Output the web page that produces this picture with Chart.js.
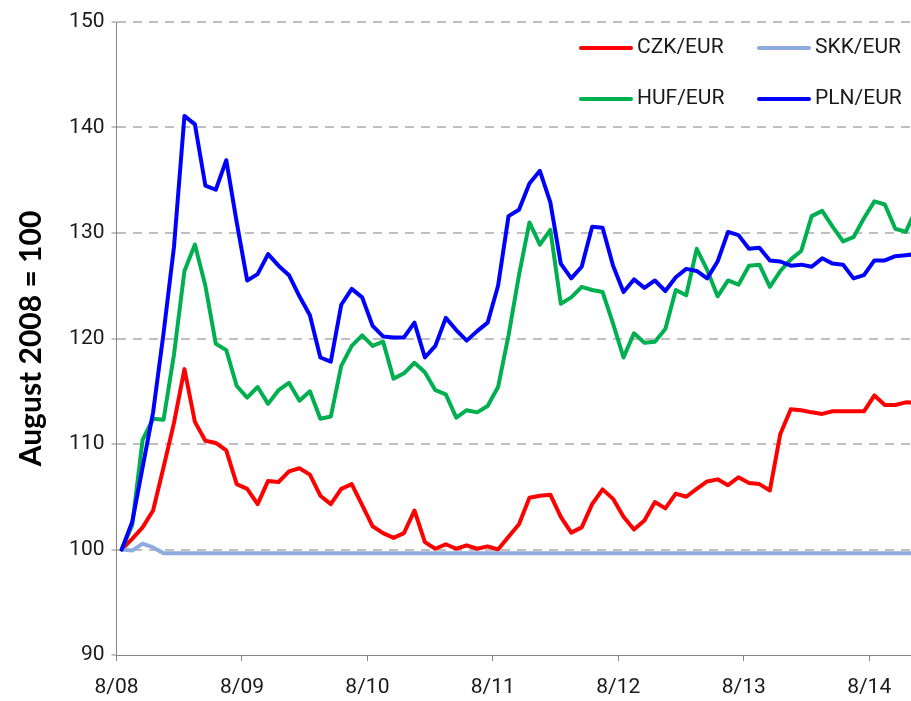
<!DOCTYPE html>
<html>
<head>
<meta charset="utf-8">
<script src="https://cdn.jsdelivr.net/npm/chart.js@4.4.0/dist/chart.umd.min.js"></script>
<style>
  html, body { margin: 0; padding: 0; background: #fff; }
  #wrap { width: 911px; height: 701px; position: relative; }
</style>
</head>
<body>
<div id="wrap"><canvas id="chart"></canvas></div>
<script>
// tick labels on the x axis, one per August
const yearLabels = ['8/08', '8/09', '8/10', '8/11', '8/12', '8/13', '8/14'];

// monthly index values, August 2008 = 100
const czk = [100, 101.0, 102.1, 103.7, 107.8, 112.0, 117.1, 112.1, 110.3, 110.1,
  109.4, 106.2, 105.75, 104.3, 106.5, 106.4, 107.4, 107.7, 107.1, 105.1,
  104.3, 105.75, 106.2, 104.2, 102.2, 101.55, 101.1, 101.55, 103.7, 100.7,
  100.07, 100.5, 100.07, 100.4, 100.07, 100.3, 100.0, 101.2, 102.4, 104.9,
  105.1, 105.2, 103.1, 101.6, 102.1, 104.3, 105.7, 104.8, 103.1, 101.9,
  102.75, 104.5, 103.9, 105.3, 105.0, 105.75, 106.45, 106.65, 106.1, 106.85,
  106.3, 106.2, 105.6, 110.95, 113.3, 113.2, 113.0, 112.85, 113.1, 113.1,
  113.1, 113.1, 114.6, 113.7, 113.7, 113.95, 113.9];

const skk = [100, 99.9, 100.55, 100.2, 99.65, 99.65, 99.65, 99.65, 99.65, 99.65,
  99.65, 99.65, 99.65, 99.65, 99.65, 99.65, 99.65, 99.65, 99.65, 99.65,
  99.65, 99.65, 99.65, 99.65, 99.65, 99.65, 99.65, 99.65, 99.65, 99.65,
  99.65, 99.65, 99.65, 99.65, 99.65, 99.65, 99.65, 99.65, 99.65, 99.65,
  99.65, 99.65, 99.65, 99.65, 99.65, 99.65, 99.65, 99.65, 99.65, 99.65,
  99.65, 99.65, 99.65, 99.65, 99.65, 99.65, 99.65, 99.65, 99.65, 99.65,
  99.65, 99.65, 99.65, 99.65, 99.65, 99.65, 99.65, 99.65, 99.65, 99.65,
  99.65, 99.65, 99.65, 99.65, 99.65, 99.65, 99.65];

const huf = [100, 102.3, 110.4, 112.4, 112.3, 118.5, 126.4, 128.9, 125.0, 119.5,
  118.9, 115.5, 114.4, 115.4, 113.8, 115.1, 115.8, 114.1, 115.0, 112.4,
  112.6, 117.4, 119.3, 120.3, 119.3, 119.7, 116.2, 116.7, 117.7, 116.8,
  115.1, 114.7, 112.5, 113.2, 113.0, 113.6, 115.4, 120.3, 126.0, 131.0,
  128.9, 130.3, 123.3, 123.9, 124.9, 124.6, 124.4, 121.4, 118.2, 120.5,
  119.6, 119.7, 120.9, 124.6, 124.1, 128.5, 126.5, 124.0, 125.5, 125.1,
  126.9, 127.0, 124.9, 126.4, 127.5, 128.3, 131.6, 132.1, 130.6, 129.2,
  129.6, 131.4, 133.0, 132.7, 130.4, 130.1, 132.3];

const pln = [100, 102.6, 107.8, 113.0, 120.5, 128.7, 141.1, 140.3, 134.5, 134.1,
  136.9, 131.0, 125.5, 126.1, 128.0, 126.9, 126.0, 124.0, 122.2, 118.2,
  117.8, 123.2, 124.7, 123.9, 121.2, 120.2, 120.1, 120.1, 121.5, 118.2,
  119.3, 121.95, 120.8, 119.8, 120.7, 121.5, 125.0, 131.6, 132.2, 134.7,
  135.9, 132.9, 127.1, 125.7, 126.8, 130.6, 130.5, 126.9, 124.4, 125.6,
  124.8, 125.5, 124.5, 125.8, 126.6, 126.4, 125.7, 127.3, 130.1, 129.8,
  128.5, 128.6, 127.4, 127.3, 126.9, 127.0, 126.8, 127.6, 127.1, 127.0,
  125.7, 126.0, 127.4, 127.4, 127.8, 127.9, 128.0];

const tickFont = "Roboto, sans-serif";
const axisGray = '#868686';
const textColor = '#1a1a1a';

function toPoints(values) {
  return values.map((v, i) => ({ x: i, y: v }));
}

// legend sits inside the plot, top right, two per row
const insideLegend = {
  id: 'insideLegend',
  afterDatasetsDraw(chart) {
    const ctx = chart.ctx;
    const slots = [[581, 48], [759, 48], [581, 99], [759, 99]];
    chart.data.datasets.forEach((ds, i) => {
      const [x, y] = slots[i];
      ctx.save();
      ctx.strokeStyle = ds.borderColor;
      ctx.lineWidth = 4;
      ctx.lineCap = 'round';
      ctx.beginPath();
      ctx.moveTo(x, y);
      ctx.lineTo(x + 50, y);
      ctx.stroke();
      ctx.fillStyle = textColor;
      ctx.font = '21px Roboto';
      ctx.textBaseline = 'middle';
      ctx.fillText(ds.label, x + 56, y);
      ctx.restore();
    });
  }
};

new Chart(document.getElementById('chart'), {
  type: 'line',
  data: {
    datasets: [
      { label: 'CZK/EUR', data: toPoints(czk), borderColor: '#FF0000', order: 3 },
      { label: 'SKK/EUR', data: toPoints(skk), borderColor: '#8FAADC', order: 2 },
      { label: 'HUF/EUR', data: toPoints(huf), borderColor: '#00B050', order: 1 },
      { label: 'PLN/EUR', data: toPoints(pln), borderColor: '#0000FF', order: 0 }
    ]
  },
  options: {
    responsive: true,
    maintainAspectRatio: false,
    animation: false,
    layout: { padding: { top: 22, right: 0, bottom: 0, left: 0 } },
    elements: {
      line: { borderWidth: 4, tension: 0, borderJoinStyle: 'round', borderCapStyle: 'round' },
      point: { radius: 0 }
    },
    plugins: {
      legend: { display: false },
      tooltip: { enabled: false }
    },
    scales: {
      x: {
        type: 'linear',
        min: -0.5,
        max: 75.5,
        afterBuildTicks: s => { s.ticks = yearLabels.map((_, k) => ({ value: k * 12 - 0.5 })); },
        afterFit: s => { s.height = 46; },
        ticks: {
          autoSkip: false,
          maxRotation: 0,
          padding: 14,
          color: textColor,
          font: { family: tickFont, size: 21 },
          callback: (v, i) => yearLabels[i]
        },
        grid: { drawOnChartArea: false, tickLength: 6, tickColor: axisGray, tickWidth: 1 },
        border: { color: axisGray, width: 1 }
      },
      y: {
        min: 90,
        max: 150,
        afterFit: s => { s.width = 116.5; },
        ticks: {
          stepSize: 10,
          padding: 7,
          color: textColor,
          font: { family: tickFont, size: 21 }
        },
        grid: {
          color: c => (c.tick && c.tick.value === 90) ? 'rgba(0,0,0,0)' : '#BFBFBF',
          lineWidth: 2,
          tickLength: 5,
          tickColor: axisGray,
          tickWidth: 1
        },
        border: { color: axisGray, width: 1, dash: [9, 7] },
        title: {
          display: true,
          text: 'August 2008 = 100',
          color: '#000',
          font: { family: 'Lato, sans-serif', size: 30, weight: 'bold' },
          padding: { top: 13, bottom: 0 }
        }
      }
    }
  },
  plugins: [insideLegend]
});
</script>
</body>
</html>
